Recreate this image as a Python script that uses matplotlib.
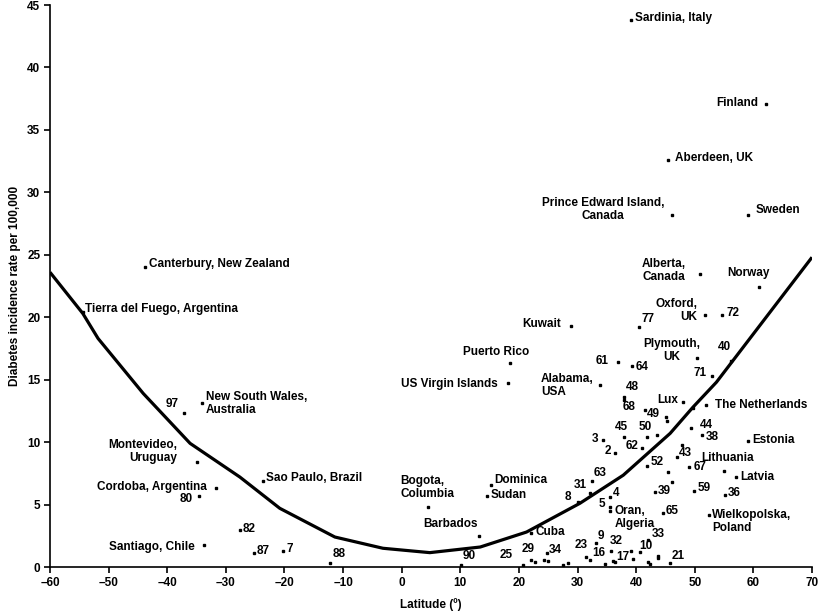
import matplotlib
matplotlib.use("Agg")
import matplotlib.pyplot as plt

plt.rcParams["font.family"] = ["Liberation Sans", "DejaVu Sans"]
plt.rcParams["font.weight"] = "bold"
plt.rcParams["font.size"] = 8.5

# labelled sites: name, latitude (deg), incidence per 100,000
site_labels = [
    "Sardinia, Italy", "Finland", "Aberdeen, UK", "Prince Edward Island,\nCanada", "Sweden",
    "Canterbury, New Zealand", "Tierra del Fuego, Argentina", "Alberta,\nCanada", "Norway",
    "Oxford,\nUK", "72", "77", "Kuwait", "Puerto Rico", "US Virgin Islands", "Alabama,\nUSA",
    "61", "64", "Plymouth,\nUK", "40", "71", "48", "68", "49", "Lux", "The Netherlands",
    "45", "62", "50", "3", "2", "44", "38", "Estonia", "43", "52", "67", "Lithuania", "Latvia",
    "63", "31", "8", "4", "5", "Oran,\nAlgeria", "39", "59", "36", "65", "Wielkopolska,\nPoland",
    "Dominica", "Sudan", "Cuba", "33", "9", "32", "10", "16", "17", "23", "29", "34", "25",
    "21", "90", "88", "87", "7", "Santiago, Chile", "82", "80", "Cordoba, Argentina",
    "Montevideo,\nUruguay", "Sao Paulo, Brazil", "97", "New South Wales,\nAustralia",
    "Bogota,\nColumbia", "Barbados",
]
latitude = [
    39.2, 62.1, 45.5, 46.1, 59.1,
    -43.8, -54.3, 50.9, 61.0,
    51.7, 54.6, 40.5, 28.8, 18.5, 18.2, 33.8,
    36.9, 39.3, 50.3, 56.2, 53.0, 38.0, 38.0, 41.5, 48.0, 52.0,
    38.0, 41.0, 41.9, 34.3, 36.4, 49.3, 51.3, 59.1, 47.0, 41.9, 49.1, 55.0, 57.0,
    32.4, 32.2, 30.0, 35.5, 35.6, 35.6, 43.2, 49.9, 55.1, 44.5, 52.4,
    15.3, 14.5, 22.1, 42.1, 33.1, 35.7, 40.7, 32.1, 36.1, 31.4, 22.1, 24.8, 20.7,
    45.7, 10.1, -12.2, -25.2, -20.2, -33.7, -27.6, -34.5, -31.6,
    -35.0, -23.7, -37.1, -34.1,
    4.5, 13.2,
]
incidence = [
    43.8, 37.1, 32.6, 28.2, 28.2,
    24.0, 20.4, 23.5, 22.4,
    20.2, 20.2, 19.2, 19.3, 16.3, 14.7, 14.6,
    16.4, 16.1, 16.7, 16.5, 15.3, 13.6, 13.4, 12.6, 13.2, 13.0,
    10.4, 9.5, 10.4, 10.2, 9.1, 11.1, 10.6, 10.1, 8.8, 8.1, 8.0, 7.7, 7.2,
    6.9, 5.9, 5.2, 5.6, 4.8, 4.5, 6.0, 6.1, 5.8, 4.3, 4.2,
    6.6, 5.7, 2.7, 2.2, 1.9, 1.3, 1.2, 0.6, 0.5, 0.8, 0.6, 1.1, 0.2,
    0.3, 0.2, 0.3, 1.1, 1.3, 1.8, 3.0, 5.7, 6.3,
    8.4, 6.9, 12.3, 13.1,
    4.8, 2.5,
]

# unlabelled sites
other_latitude = [45.1, 45.2, 49.7, 43.6, 47.9, 45.5, 46.2, 24.2, 24.9, 22.7, 27.6, 28.3,
                  34.6, 39.2, 39.5, 42.1, 42.4, 43.8, 43.8, 36.4]
other_incidence = [12.0, 11.7, 12.7, 10.6, 9.8, 7.6, 6.8, 0.6, 0.5, 0.4, 0.2, 0.35,
                   0.27, 1.3, 0.67, 0.4, 0.27, 0.9, 0.7, 0.38]

# fitted curve
curve_latitude = [-60, -54.4, -51.8, -44.1, -36.1, -27.6, -20.8, -11.4, -3.2, 4.8,
                  13.4, 21.3, 30.4, 37.8, 45.8, 49.7, 53.7, 70]
curve_incidence = [23.6, 20.3, 18.3, 13.9, 9.9, 7.2, 4.7, 2.4, 1.5, 1.15,
                   1.6, 2.8, 5.1, 7.35, 10.7, 12.8, 14.8, 24.8]

# label placement: offset in pixels from the dot (dx, dy up), horizontal alignment
label_pos = {
    "Sardinia, Italy": (4, 2, "left"), "Finland": (-7, 1, "right"),
    "Aberdeen, UK": (7, 2, "left"), "Prince Edward Island,\nCanada": (-69, 5, "center"),
    "Sweden": (8, 5, "left"), "Canterbury, New Zealand": (4, 3, "left"),
    "Tierra del Fuego, Argentina": (2, 3, "left"), "Alberta,\nCanada": (-58, 3, "left"),
    "Norway": (-11, 14, "center"), "Oxford,\nUK": (-7, 4, "right"), "72": (5, 2, "left"),
    "77": (2, 8, "left"), "Kuwait": (-10, 2, "right"), "Puerto Rico": (-14, 11, "center"),
    "US Virgin Islands": (-11, -1, "right"), "Alabama,\nUSA": (-59, -1, "left"),
    "61": (-9, 1, "right"), "64": (4, -1, "left"), "Plymouth,\nUK": (-25, 8, "center"),
    "40": (-7, 14, "center"), "71": (-6, 3, "right"), "48": (8, 10, "center"),
    "68": (5, -7, "center"), "49": (2, -4, "left"), "Lux": (-5, 2, "right"),
    "The Netherlands": (9, 0, "left"), "45": (-3, 10, "center"), "62": (-4, 2, "right"),
    "50": (-2, 10, "center"), "3": (-4, 1, "right"), "2": (-4, 2, "right"),
    "44": (9, 3, "left"), "38": (3, -2, "left"), "Estonia": (4, 1, "left"),
    "43": (2, 4, "left"), "52": (3, 4, "left"), "67": (4, 0, "left"),
    "Lithuania": (3, 13, "center"), "Latvia": (4, 0, "left"), "63": (2, 8, "left"),
    "31": (-4, 8, "right"), "8": (-6, 5, "right"), "4": (3, 4, "left"), "5": (-5, 3, "right"),
    "Oran,\nAlgeria": (4, -7, "left"), "39": (3, 1, "left"), "59": (3, 3, "left"),
    "36": (3, 2, "left"), "65": (3, 2, "left"), "Wielkopolska,\nPoland": (3, -7, "left"),
    "Dominica": (3, 5, "left"), "Sudan": (4, 1, "left"), "Cuba": (4, 1, "left"),
    "33": (3, 6, "left"), "9": (2, 7, "left"), "32": (-1, 10, "left"), "10": (-1, 6, "left"),
    "16": (2, 7, "left"), "17": (3, 4, "left"), "23": (2, 12, "right"), "29": (-3, 11, "center"),
    "34": (2, 3, "left"), "25": (-10, 10, "right"), "21": (2, 7, "left"), "90": (2, 9, "left"),
    "88": (2, 9, "left"), "87": (3, 2, "left"), "7": (3, 2, "left"),
    "Santiago, Chile": (-9, -2, "right"), "82": (3, 1, "left"), "80": (-7, -3, "right"),
    "Cordoba, Argentina": (-10, 1, "right"), "Montevideo,\nUruguay": (-19, 11, "right"),
    "Sao Paulo, Brazil": (3, 3, "left"), "97": (-6, 9, "right"),
    "New South Wales,\nAustralia": (4, 0, "left"), "Bogota,\nColumbia": (-28, 20, "left"),
    "Barbados": (-29, 12, "center"),
}

fig = plt.figure(figsize=(8.19, 6.14), dpi=100)
ax = fig.add_axes([50 / 819, 1 - 567 / 614, 762 / 819, 562 / 614])

ax.plot(curve_latitude, curve_incidence, color="black", lw=2.3,
        solid_joinstyle="round", solid_capstyle="butt")
ax.plot(latitude, incidence, "s", color="black", ms=1.8, clip_on=False)
ax.plot(other_latitude, other_incidence, "s", color="black", ms=1.8, clip_on=False)

for name, lat, rate in zip(site_labels, latitude, incidence):
    dx, dy, ha = label_pos[name]
    ax.annotate(name, (lat, rate), xytext=(dx, dy), textcoords="offset pixels",
                ha=ha, va="center", multialignment=ha, linespacing=1.1,
                fontsize=8.5, fontweight="bold")

ax.set_xlim(-60, 70)
ax.set_ylim(0, 45)
ax.set_xticks(range(-60, 71, 10))
ax.set_yticks(range(0, 46, 5))
ax.set_xticklabels([str(v).replace("-", "\u2013") for v in range(-60, 71, 10)])
for side in ("top", "right"):
    ax.spines[side].set_visible(False)
for side in ("left", "bottom"):
    ax.spines[side].set_linewidth(1.2)
ax.tick_params(direction="out", length=4, width=1.2, pad=3, labelsize=8.5)
ax.set_xlabel("Latitude (º)", fontsize=8.5, fontweight="bold", labelpad=7)
ax.set_ylabel("Diabetes incidence rate per 100,000", fontsize=8.5, fontweight="bold", labelpad=4)

fig.savefig("out.png", dpi=100)
